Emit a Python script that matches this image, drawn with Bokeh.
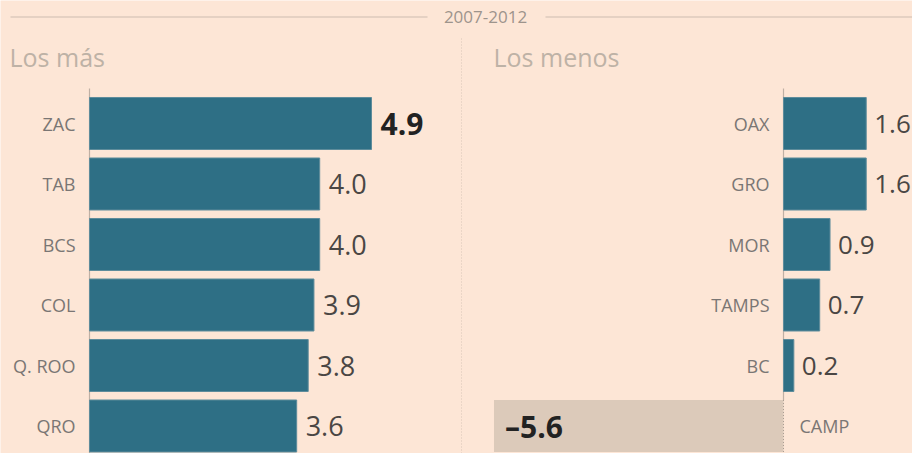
from bokeh.plotting import figure
from bokeh.models import Range1d
from bokeh.embed import file_html
from bokeh.resources import INLINE
from bokeh.core.properties import value

# ---- data ----
left_states = ["ZAC", "TAB", "BCS", "COL", "Q. ROO", "QRO"]
left_values = [4.9, 4.0, 4.0, 3.9, 3.8, 3.6]
right_states = ["OAX", "GRO", "MOR", "TAMPS", "BC", "CAMP"]
right_values = [1.6, 1.6, 0.9, 0.7, 0.2, -5.6]
period = "2007-2012"
left_title = "Los más"
right_title = "Los menos"

# ---- style ----
BG = "#fde6d6"
BAR = "#2e6f85"
BAR_EDGE = "#5e8c9b"
NEG = "#dccaba"
RULE = "#cdbcb0"
FONT = "Open Sans"

W, H = 912, 453
SL = 57.55   # px per unit, left panel
SR = 51.7    # px per unit, right panel
SY = 60.5    # px per row
XL0 = -89 / SL
XR0 = -783 / SR
Y_END = -123 / SY

def fx(px):
    return XL0 + px / SL

def fy(py):
    return Y_END + py / SY

p = figure(width=W, height=H,
           x_range=Range1d(XL0, XL0 + W / SL),
           y_range=Range1d(Y_END + H / SY, Y_END),
           output_backend="svg", toolbar_location=None,
           x_axis_location=None, y_axis_location=None,
           min_border=0, background_fill_color=BG, border_fill_color=BG,
           outline_line_color=None)
p.extra_x_ranges = {"r": Range1d(XR0, XR0 + W / SR)}
p.grid.visible = False

rows = list(range(len(left_states)))

def fmt(v):
    return f"{v:.1f}".replace("-", "\u2013")

# ---- header ----
p.segment(x0=[fx(10), fx(545)], y0=[fy(16.5), fy(16.5)],
          x1=[fx(427), fx(912)], y1=[fy(16.5), fy(16.5)],
          line_color=RULE, line_width=1.2)
p.text(x=[fx(485)], y=[fy(16.5)], text=[period], text_font=value(FONT),
       text_font_size="17px", text_color="#9d948c", text_align="center",
       text_baseline="middle")
p.text(x=[fx(9), fx(493)], y=[fy(56), fy(56)], text=[left_title, right_title],
       text_font=value(FONT), text_font_size="25px", text_color="#beb2a6",
       text_align="left", text_baseline="middle")

# divider
p.segment(x0=[fx(461)], y0=[fy(38)], x1=[fx(461)], y1=[fy(453)],
          line_color="#d9c7b9", line_width=1, line_dash="1 2")

# ---- left panel ----
p.segment(x0=[0], y0=[fy(88)], x1=[0], y1=[fy(453)], line_color="#bfb0a4", line_width=1.2)
p.hbar(y=rows, left=0, right=left_values, height=0.86,
       fill_color=BAR, line_color=BAR_EDGE, line_width=1)
p.text(x=[0] * len(rows), y=rows, text=left_states, x_offset=-14,
       text_font=value(FONT), text_font_size="18px", text_color="#7a7674",
       text_align="right", text_baseline="middle")
imax = left_values.index(max(left_values))
lt_norm = [i for i in rows if i != imax]
p.text(x=[left_values[i] for i in lt_norm], y=lt_norm,
       text=[fmt(left_values[i]) for i in lt_norm], x_offset=9,
       text_font=value(FONT), text_font_size="27px", text_color="#4a4644",
       text_align="left", text_baseline="middle")
p.text(x=[left_values[imax]], y=[imax], text=[fmt(left_values[imax])], x_offset=9,
       text_font=value(FONT), text_font_size="30px", text_color="#222222",
       text_font_style="bold", text_align="left", text_baseline="middle")

# ---- right panel ----
neg_rows = [i for i in rows if right_values[i] < 0]
pos_rows = [i for i in rows if right_values[i] >= 0]
first_neg = min(neg_rows)
p.segment(x0=[0], y0=[fy(88)], x1=[0], y1=[first_neg - 0.43],
          line_color="#bfb0a4", line_width=1.2, x_range_name="r")
p.hbar(y=pos_rows, left=0, right=[right_values[i] for i in pos_rows], height=0.86,
       fill_color=BAR, line_color=BAR_EDGE, line_width=1, x_range_name="r")
p.hbar(y=neg_rows, left=[right_values[i] for i in neg_rows], right=0, height=0.86,
       fill_color=NEG, line_color=None, x_range_name="r")
p.segment(x0=[0], y0=[first_neg - 0.43], x1=[0], y1=[fy(453)],
          line_color="#a99c92", line_width=1, line_dash="1 2", x_range_name="r")
p.text(x=[0] * len(pos_rows), y=pos_rows, text=[right_states[i] for i in pos_rows],
       x_offset=-14, text_font=value(FONT), text_font_size="18px",
       text_color="#7a7674", text_align="right", text_baseline="middle",
       x_range_name="r")
p.text(x=[0] * len(neg_rows), y=neg_rows, text=[right_states[i] for i in neg_rows],
       x_offset=16, text_font=value(FONT), text_font_size="18px",
       text_color="#7a7674", text_align="left", text_baseline="middle",
       x_range_name="r")
p.text(x=[right_values[i] for i in pos_rows], y=pos_rows,
       text=[fmt(right_values[i]) for i in pos_rows], x_offset=8,
       text_font=value(FONT), text_font_size="26px", text_color="#4a4644",
       text_align="left", text_baseline="middle", x_range_name="r")
p.text(x=[right_values[i] for i in neg_rows], y=neg_rows,
       text=[fmt(right_values[i]) for i in neg_rows], x_offset=11,
       text_font=value(FONT), text_font_size="30px", text_color="#222222",
       text_font_style="bold", text_align="left", text_baseline="middle",
       x_range_name="r")

open("out.html", "w").write(file_html(p, INLINE))
